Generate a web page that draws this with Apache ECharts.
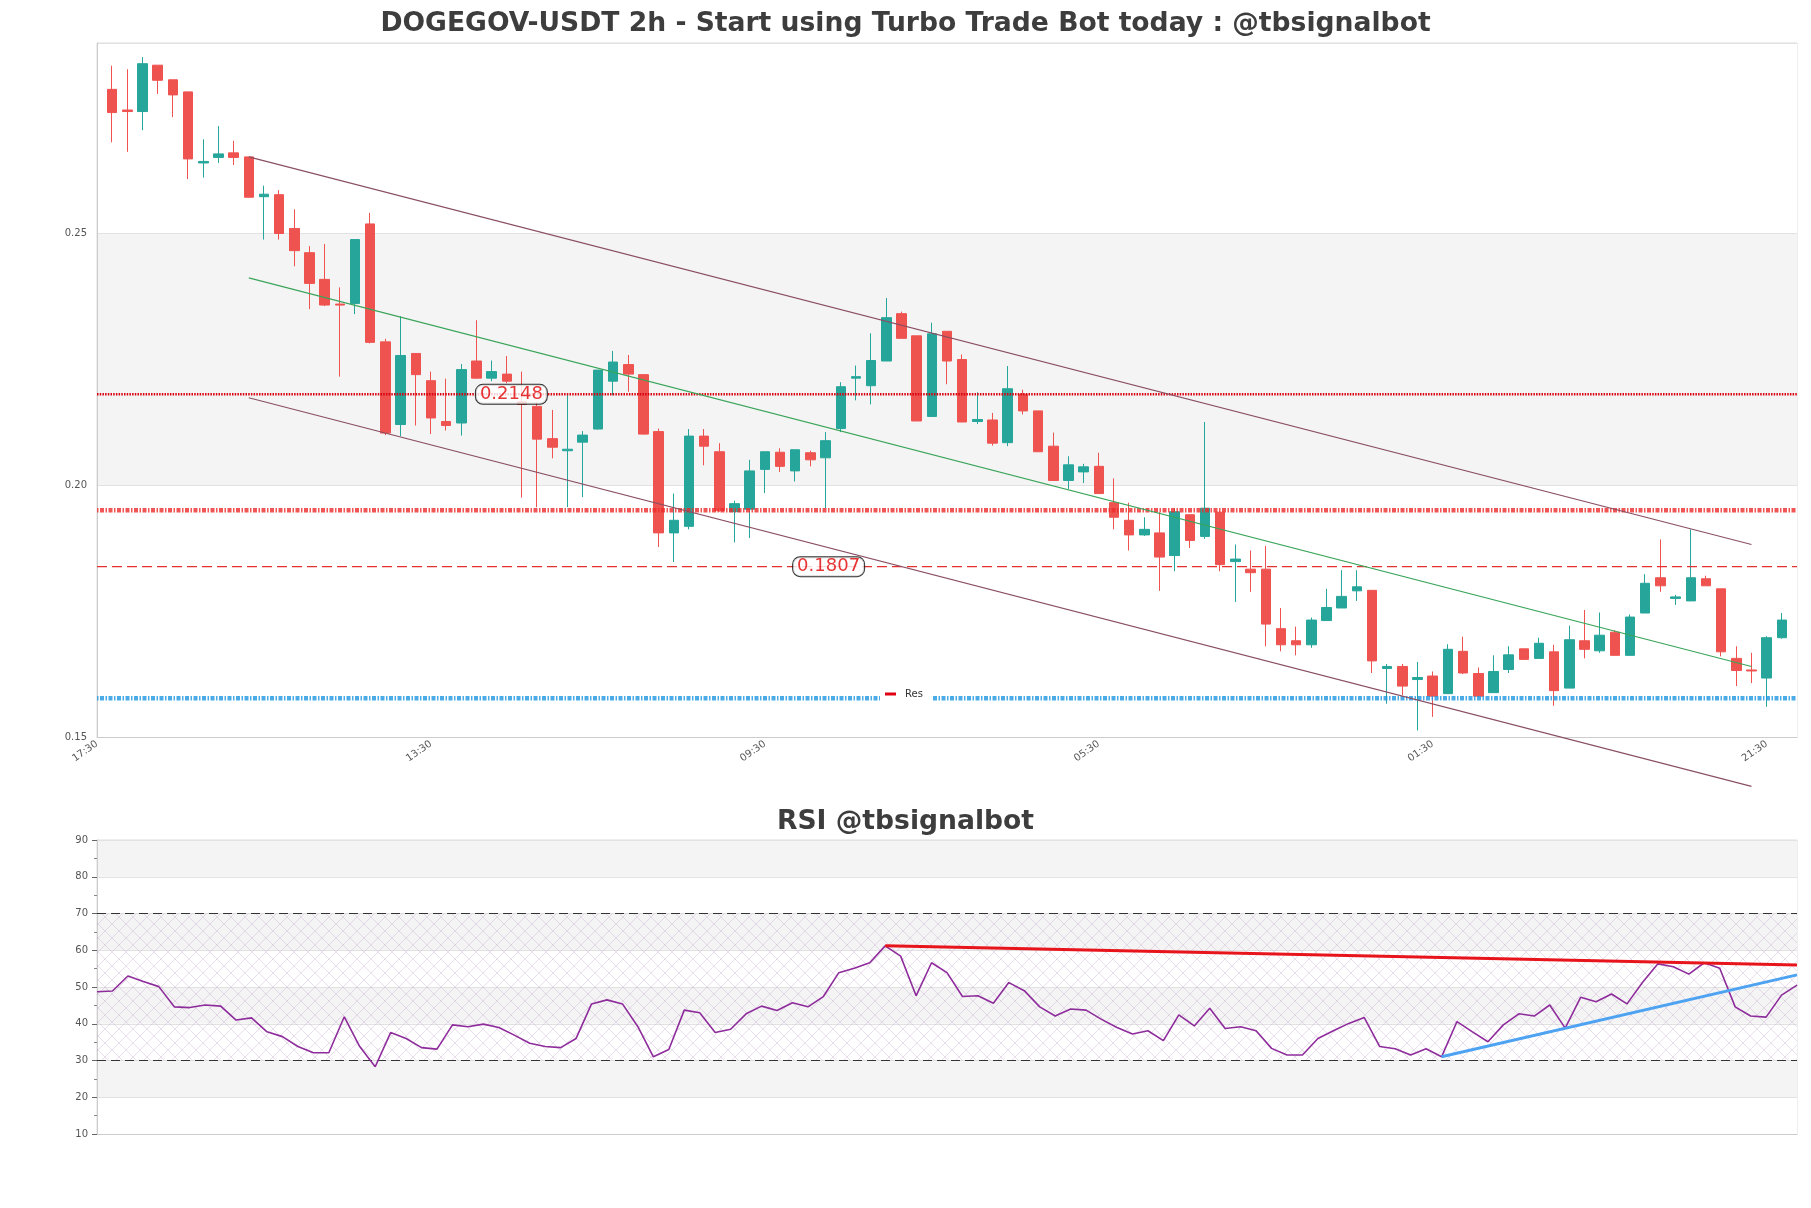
<!DOCTYPE html>
<html><head><meta charset="utf-8">
<script src="https://cdn.jsdelivr.net/npm/echarts@6/dist/echarts.min.js"></script>
<style>html,body{margin:0;padding:0;background:#fff}#c{width:1811px;height:1208px}</style>
</head><body><div id="c"></div>
<script>
// ---------- DATA ----------
const xTickLabels = ['17:30', '13:30', '09:30', '05:30', '01:30', '21:30'];

const opens = [0.2785,0.2744,0.2741,0.2833,0.2804,0.2780,0.2639,0.2650,0.2659,0.2651,
0.2572,0.2576,0.2509,0.2461,0.2408,0.2359,0.2360,0.2518,0.2284,0.2120,
0.2261,0.2207,0.2126,0.2123,0.2246,0.2212,0.2220,0.2165,0.2156,0.2092,
0.2068,0.2085,0.2111,0.2206,0.2239,0.2219,0.2106,0.1905,0.1918,0.2097,
0.2066,0.1947,0.1952,0.2031,0.2065,0.2028,0.2064,0.2054,0.2112,0.2212,
0.2197,0.2246,0.2340,0.2296,0.2136,0.2305,0.2249,0.2126,0.2129,0.2084,
0.2180,0.2147,0.2077,0.2009,0.2026,0.2037,0.1965,0.1930,0.1901,0.1905,
0.1860,0.1941,0.1898,0.1946,0.1848,0.1833,0.1833,0.1715,0.1691,0.1683,
0.1731,0.1756,0.1790,0.1791,0.1636,0.1640,0.1614,0.1621,0.1586,0.1670,
0.1626,0.1588,0.1634,0.1675,0.1656,0.1669,0.1597,0.1691,0.1671,0.1708,
0.1662,0.1746,0.1816,0.1775,0.1770,0.1814,0.1794,0.1656,0.1633,0.1617,
0.1697];
const closes = [0.2739,0.2741,0.2836,0.2803,0.2774,0.2647,0.2642,0.2657,0.2650,0.2571,
0.2577,0.2499,0.2465,0.2400,0.2357,0.2357,0.2487,0.2283,0.2103,0.2257,
0.2219,0.2133,0.2118,0.2229,0.2212,0.2225,0.2206,0.2160,0.2091,0.2075,
0.2071,0.2099,0.2228,0.2244,0.2220,0.2101,0.1905,0.1930,0.2097,0.2077,
0.1949,0.1963,0.2028,0.2066,0.2037,0.2070,0.2050,0.2088,0.2195,0.2215,
0.2247,0.2332,0.2291,0.2127,0.2300,0.2246,0.2125,0.2130,0.2083,0.2191,
0.2147,0.2066,0.2009,0.2040,0.2036,0.1983,0.1936,0.1901,0.1912,0.1857,
0.1947,0.1890,0.1954,0.1842,0.1853,0.1826,0.1724,0.1683,0.1683,0.1732,
0.1757,0.1779,0.1798,0.1651,0.1640,0.1601,0.1618,0.1581,0.1674,0.1627,
0.1581,0.1630,0.1663,0.1654,0.1686,0.1592,0.1693,0.1674,0.1702,0.1662,
0.1738,0.1805,0.1800,0.1778,0.1816,0.1800,0.1669,0.1632,0.1631,0.1697,
0.1732];
const lows = [0.2680,0.2661,0.2704,0.2776,0.2730,0.2607,0.2610,0.2639,0.2635,0.2570,
0.2487,0.2487,0.2434,0.2349,0.2355,0.2215,0.2339,0.2281,0.2099,0.2097,
0.2118,0.2101,0.2108,0.2098,0.2211,0.2206,0.2202,0.1975,0.1956,0.2053,
0.1956,0.1976,0.2110,0.2178,0.2185,0.2100,0.1877,0.1847,0.1912,0.2039,
0.1947,0.1886,0.1895,0.1984,0.2026,0.2007,0.2037,0.1954,0.2105,0.2168,
0.2160,0.2246,0.2291,0.2127,0.2136,0.2200,0.2125,0.2121,0.2078,0.2077,
0.2140,0.2066,0.2009,0.1992,0.2004,0.1983,0.1912,0.1870,0.1899,0.1790,
0.1829,0.1875,0.1893,0.1829,0.1768,0.1788,0.1680,0.1670,0.1662,0.1677,
0.1731,0.1756,0.1770,0.1627,0.1566,0.1583,0.1513,0.1540,0.1586,0.1625,
0.1581,0.1588,0.1627,0.1654,0.1656,0.1562,0.1597,0.1656,0.1667,0.1662,
0.1662,0.1746,0.1788,0.1762,0.1770,0.1800,0.1660,0.1601,0.1607,0.1560,
0.1695];
const highs = [0.2832,0.2825,0.2849,0.2833,0.2804,0.2780,0.2686,0.2712,0.2683,0.2651,
0.2594,0.2585,0.2547,0.2474,0.2478,0.2392,0.2487,0.2540,0.2290,0.2335,
0.2261,0.2225,0.2211,0.2240,0.2327,0.2247,0.2256,0.2225,0.2165,0.2149,
0.2180,0.2107,0.2228,0.2266,0.2258,0.2220,0.2112,0.1983,0.2111,0.2111,
0.2083,0.1969,0.2050,0.2066,0.2073,0.2070,0.2068,0.2105,0.2204,0.2237,
0.2301,0.2371,0.2344,0.2296,0.2322,0.2305,0.2259,0.2184,0.2143,0.2236,
0.2189,0.2147,0.2104,0.2057,0.2042,0.2064,0.2013,0.1965,0.1936,0.1946,
0.1954,0.1941,0.2125,0.1946,0.1882,0.1870,0.1879,0.1756,0.1719,0.1737,
0.1794,0.1831,0.1831,0.1791,0.1645,0.1645,0.1649,0.1630,0.1684,0.1699,
0.1638,0.1662,0.1680,0.1675,0.1697,0.1683,0.1721,0.1752,0.1747,0.1712,
0.1743,0.1823,0.1892,0.1782,0.1912,0.1820,0.1794,0.1680,0.1667,0.1700,
0.1746];

const resDottedLevel = 0.2180;
const resPatternLevel = 0.1950;
const resDashedLevel = 0.1838;
const supPatternLevel = 0.1577;
const levelLabelTexts = ['0.2148', '0.1807'];
const levelLabelAt = [[27.3, 0.2180], [48.2, 0.1838]];

const channelX = [10, 109];
const channelUpper = [0.2651, 0.1882];
const channelMid = [0.2411, 0.1640];
const channelLower = [0.2173, 0.1402];

const rsi = [48.7,48.9,53.0,51.5,50.1,44.6,44.4,45.1,44.8,41.0,
41.6,37.8,36.5,33.8,32.1,32.1,41.9,33.8,28.3,37.6,
36.0,33.5,33.1,39.7,39.2,39.9,39.0,36.9,34.7,33.8,
33.5,36.0,45.4,46.5,45.4,39.2,31.0,33.0,43.7,43.0,
37.6,38.5,42.7,44.8,43.6,45.7,44.6,47.4,53.9,55.1,
56.6,61.2,58.4,47.6,56.6,53.9,47.4,47.6,45.6,51.2,
49.0,44.6,42.1,44.0,43.7,41.2,39.0,37.2,38.1,35.4,
42.4,39.4,44.2,38.7,39.2,38.1,33.3,31.5,31.5,36.0,
38.1,40.1,41.7,33.8,33.2,31.5,33.2,31.0,40.6,37.8,
35.1,39.7,42.7,42.1,45.1,38.8,47.2,46.0,48.1,45.4,
51.2,56.3,55.5,53.5,56.6,55.1,44.6,42.1,41.8,47.8,
50.5];
const rsiResX = [51, 110], rsiResY = [61.2, 56.0];
const rsiSupX = [87, 110], rsiSupY = [31.0, 53.3];
const rsiLevels = [30, 70];

// ---------- CHART ----------
const FONT = 'DejaVu Sans';
const candleData = opens.map((o, k) => [k + 1, o, closes[k], lows[k], highs[k]]);
const seg = (xs, ys) => xs.map((x, k) => [x, ys[k]]);
const flat = v => [[0, v], [112, v]];

const pc = document.createElement('canvas');
pc.width = 14; pc.height = 14;
const pctx = pc.getContext('2d');
pctx.strokeStyle = 'rgba(190,160,200,0.5)';
pctx.lineWidth = 0.7;
pctx.beginPath();
pctx.moveTo(0, 0); pctx.lineTo(14, 14);
pctx.moveTo(14, 0); pctx.lineTo(0, 14);
pctx.stroke();

const chart = echarts.init(document.getElementById('c'), null, {renderer: 'canvas'});
const lineBase = {type: 'line', symbol: 'none', silent: true, xAxisIndex: 0, yAxisIndex: 0, z: 5};

chart.setOption({
  animation: false,
  backgroundColor: '#ffffff',
  title: [
    {text: 'DOGEGOV-USDT 2h - Start using Turbo Trade Bot today : @tbsignalbot', left: 'center', top: 11, padding: 0,
     textStyle: {fontFamily: FONT, fontSize: 26.6, fontWeight: 'bold', color: '#3d3d3d'}},
    {text: 'RSI @tbsignalbot', left: 'center', top: 809, padding: 0,
     textStyle: {fontFamily: FONT, fontSize: 26.6, fontWeight: 'bold', color: '#3d3d3d'}}
  ],
  legend: {
    data: ['Res'], left: 880, top: 686, z: 20, backgroundColor: '#ffffff', padding: [3, 9, 3, 5],
    icon: 'rect', itemWidth: 11, itemHeight: 3, itemGap: 4,
    textStyle: {fontFamily: FONT, fontSize: 10, color: '#333', padding: [0, 0, 0, 4]}
  },
  grid: [
    {left: 97, top: 43, width: 1700, height: 694, show: true, borderColor: '#dddddd', borderWidth: 1, outerBoundsMode: 'none'},
    {left: 97, top: 840, width: 1700, height: 294, show: true, borderColor: '#dddddd', borderWidth: 1, outerBoundsMode: 'none'}
  ],
  xAxis: [
    {type: 'value', gridIndex: 0, min: 0, max: 112, interval: 22,
     axisLine: {show: true, lineStyle: {color: '#cccccc'}}, axisTick: {show: false},
     splitLine: {show: false},
     axisLabel: {rotate: 35, margin: 6, fontFamily: FONT, fontSize: 10, color: '#555', showMaxLabel: false,
                 formatter: v => xTickLabels[Math.round(v / 22)] || ''}},
    {type: 'value', gridIndex: 1, min: 0, max: 110,
     axisLine: {show: true, lineStyle: {color: '#cccccc'}}, axisTick: {show: false},
     splitLine: {show: false}, axisLabel: {show: false}}
  ],
  yAxis: [
    {type: 'value', gridIndex: 0, min: 0.15, max: 0.2877, interval: 0.05,
     axisLine: {show: true, lineStyle: {color: '#cccccc'}}, axisTick: {show: false},
     axisLabel: {fontFamily: FONT, fontSize: 10, color: '#555', margin: 10, showMaxLabel: false,
                 formatter: v => v.toFixed(2)},
     splitLine: {show: true, lineStyle: {color: '#e2e2e2'}},
     splitArea: {show: true, areaStyle: {color: ['#ffffff', '#f4f4f4']}}},
    {type: 'value', gridIndex: 1, min: 10, max: 90, interval: 10,
     axisLine: {show: true, lineStyle: {color: '#cccccc'}},
     axisTick: {show: true, length: 5, lineStyle: {color: '#666'}},
     minorTick: {show: true, splitNumber: 2, length: 3, lineStyle: {color: '#888'}},
     axisLabel: {fontFamily: FONT, fontSize: 10, color: '#555', margin: 9},
     splitLine: {show: true, lineStyle: {color: '#e2e2e2'}},
     splitArea: {show: true, areaStyle: {color: ['#ffffff', '#f4f4f4']}}}
  ],
  series: [
    {type: 'candlestick', name: 'Price', xAxisIndex: 0, yAxisIndex: 0, barWidth: 10, z: 3,
     encode: {x: 0, y: [1, 2, 3, 4]}, data: candleData,
     itemStyle: {color: '#26a69a', color0: '#ef5350', borderColor: '#26a69a', borderColor0: '#ef5350', borderWidth: 1}},
    Object.assign({}, lineBase, {name: 'Res', data: flat(resDottedLevel), itemStyle: {color: '#e00012'},
      lineStyle: {color: '#d8000f', width: 2.5, type: [1.5, 1.2]}}),
    Object.assign({}, lineBase, {name: 'resPattern', data: flat(resPatternLevel),
      lineStyle: {color: '#ee2a2a', width: 4.5, type: [1.5, 1.5, 4, 1.5], opacity: 0.8}}),
    Object.assign({}, lineBase, {name: 'resDashed', data: flat(resDashedLevel),
      lineStyle: {color: '#e53030', width: 1.2, type: [10, 5]}}),
    Object.assign({}, lineBase, {name: 'supPattern', data: flat(supPatternLevel), z: 4,
      lineStyle: {color: '#1e96e0', width: 4.5, type: [1.5, 1.5, 4, 1.5], opacity: 0.8}}),
    Object.assign({}, lineBase, {name: 'chUp', data: seg(channelX, channelUpper), clip: false,
      lineStyle: {color: '#8a4e63', width: 1.1}}),
    Object.assign({}, lineBase, {name: 'chMid', data: seg(channelX, channelMid), clip: false,
      lineStyle: {color: '#3aa55a', width: 1.1}}),
    Object.assign({}, lineBase, {name: 'chLow', data: seg(channelX, channelLower), clip: false,
      lineStyle: {color: '#8a4e63', width: 1.1}}),
    {type: 'scatter', name: 'levelLabels', xAxisIndex: 0, yAxisIndex: 0, z: 10, silent: true, symbolSize: 1,
     itemStyle: {color: 'rgba(0,0,0,0)'},
     data: levelLabelAt.map((p, k) => ({value: p, label: {formatter: levelLabelTexts[k]}})),
     label: {show: true, position: 'inside', fontFamily: FONT, fontSize: 18, color: '#e00000',
             backgroundColor: '#ffffff', borderColor: '#000', borderWidth: 1, borderRadius: 7, padding: [1, 4, 0, 4]}},
    {type: 'line', name: 'RSI', xAxisIndex: 1, yAxisIndex: 1, symbol: 'none', silent: true, z: 5,
     data: rsi.map((v, k) => [k, v]), lineStyle: {color: '#8e2c9c', width: 1.6},
     markArea: {silent: true, itemStyle: {color: {image: pc, repeat: 'repeat'}},
                data: [[{yAxis: rsiLevels[0]}, {yAxis: rsiLevels[1]}]]},
     markLine: {silent: true, symbol: 'none', label: {show: false},
                lineStyle: {color: '#333', width: 1, type: [9, 5]},
                data: rsiLevels.map(v => ({yAxis: v}))}},
    {type: 'line', name: 'rsiRes', xAxisIndex: 1, yAxisIndex: 1, symbol: 'none', silent: true, z: 6,
     data: seg(rsiResX, rsiResY), lineStyle: {color: '#e8141c', width: 3}},
    {type: 'line', name: 'rsiSup', xAxisIndex: 1, yAxisIndex: 1, symbol: 'none', silent: true, z: 6,
     data: seg(rsiSupX, rsiSupY), lineStyle: {color: '#4da3f2', width: 3}}
  ]
});
</script></body></html>
